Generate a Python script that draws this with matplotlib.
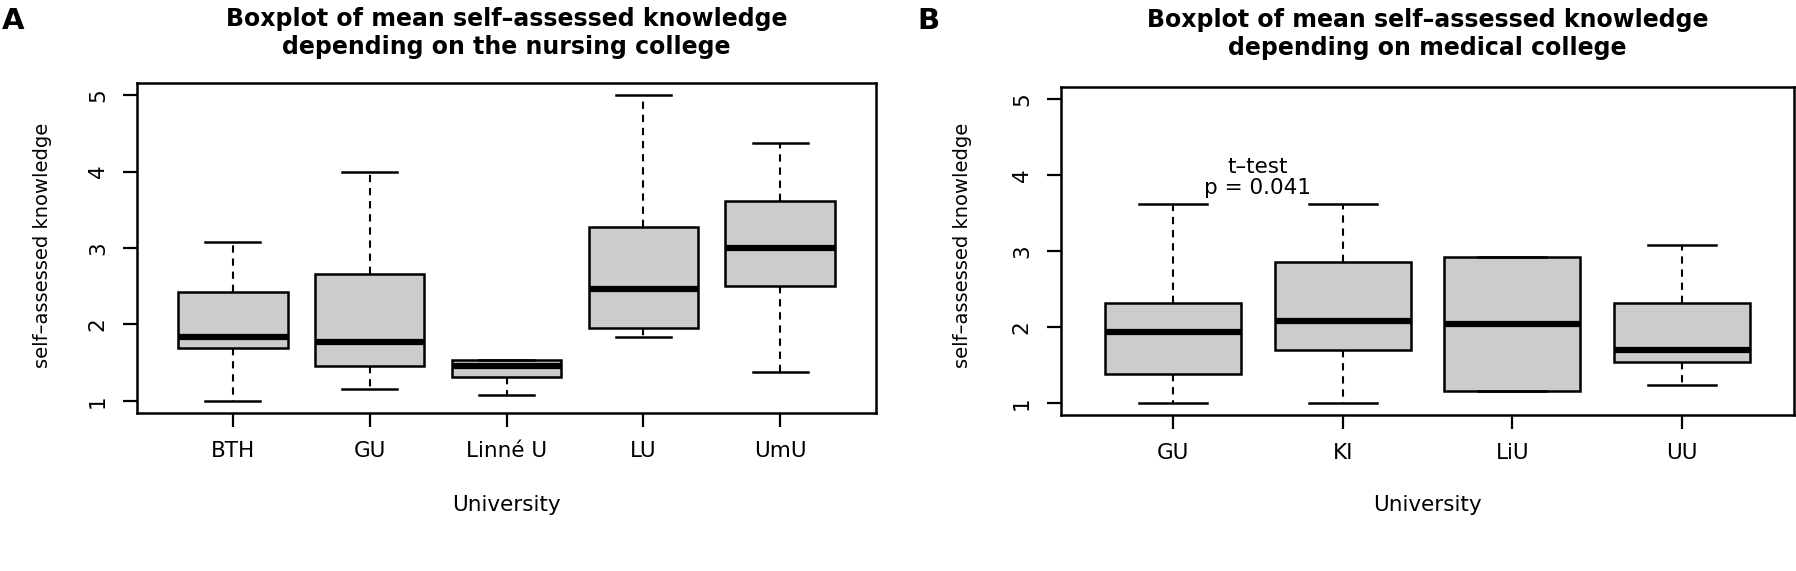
import matplotlib
matplotlib.use("Agg")
import matplotlib.pyplot as plt

plt.rcParams['font.family'] = ['DejaVu Sans']

# ---- data ----
nursing_labels = ["BTH", "GU", "Linné U", "LU", "UmU"]
nursing_whislo = [1.00, 1.16, 1.07, 1.84, 1.38]
nursing_q1     = [1.69, 1.46, 1.31, 1.95, 2.50]
nursing_med    = [1.84, 1.77, 1.46, 2.46, 3.00]
nursing_q3     = [2.42, 2.66, 1.54, 3.27, 3.62]
nursing_whishi = [3.08, 4.00, 1.54, 5.00, 4.38]

medical_labels = ["GU", "KI", "LiU", "UU"]
medical_whislo = [1.00, 1.00, 1.16, 1.23]
medical_q1     = [1.38, 1.69, 1.16, 1.54]
medical_med    = [1.93, 2.08, 2.04, 1.70]
medical_q3     = [2.31, 2.85, 2.92, 2.31]
medical_whishi = [3.62, 3.62, 2.92, 3.08]

yticks = [1, 2, 3, 4, 5]
title_a = "Boxplot of mean self\u2013assessed knowledge\ndepending on the nursing college"
title_b = "Boxplot of mean self\u2013assessed knowledge\ndepending on medical college"
ylabel = "self\u2013assessed knowledge"
xlabel = "University"
annot = "t\u2013test\np = 0.041"

W, H = 1796, 571
fig = plt.figure(figsize=(W / 100, H / 100), dpi=100)

def px_axes(x0, x1, y0, y1):
    return fig.add_axes([x0 / W, 1 - y1 / H, (x1 - x0) / W, (y1 - y0) / H])

ax1 = px_axes(137, 876, 83, 413)
ax2 = px_axes(1061, 1794, 87, 415)

box_fill = "#cbcccb"
LAB = 15.5

def draw(ax, labels, lo, q1, med, q3, hi):
    stats = []
    for i in range(len(labels)):
        stats.append(dict(label=labels[i], whislo=lo[i], q1=q1[i], med=med[i],
                          q3=q3[i], whishi=hi[i], fliers=[]))
    n = len(labels)
    ax.bxp(stats, positions=list(range(1, n + 1)), widths=0.8, patch_artist=True,
           showfliers=False,
           boxprops=dict(facecolor=box_fill, edgecolor="black", linewidth=1.8),
           medianprops=dict(color="black", linewidth=4.5, solid_capstyle="butt"),
           whiskerprops=dict(color="black", linewidth=1.5, linestyle=(0, (3.5, 2.8))),
           capprops=dict(color="black", linewidth=1.8),
           capwidths=0.4)
    ext = 0.04 * n
    ax.set_xlim(0.5 - ext, n + 0.5 + ext)
    ax.set_ylim(0.84, 5.16)
    ax.set_yticks(yticks)
    ax.set_yticklabels([str(v) for v in yticks])
    ax.set_xticks(list(range(1, n + 1)))
    ax.set_xticklabels(labels)
    for s in ax.spines.values():
        s.set_linewidth(1.8)
    ax.tick_params(axis="both", length=10, width=1.6, labelsize=LAB, direction="out")
    ax.tick_params(axis="x", pad=10)
    ax.tick_params(axis="y", pad=11)
    for lab in ax.get_yticklabels():
        lab.set_rotation(90)
        lab.set_va("center")
        lab.set_ha("right")

draw(ax1, nursing_labels, nursing_whislo, nursing_q1, nursing_med, nursing_q3, nursing_whishi)
draw(ax2, medical_labels, medical_whislo, medical_q1, medical_med, medical_q3, medical_whishi)

# titles
fig.text((137 + 876) / 2 / W, 1 - 33 / H, title_a, ha="center", va="center",
         fontsize=17, fontweight="bold", linespacing=1.25)
fig.text((1061 + 1794) / 2 / W, 1 - 34 / H, title_b, ha="center", va="center",
         fontsize=17, fontweight="bold", linespacing=1.25)
fig.text(13 / W, 1 - 21 / H, "A", ha="center", va="center", fontsize=21, fontweight="bold")
fig.text(928 / W, 1 - 21 / H, "B", ha="center", va="center", fontsize=21, fontweight="bold")

# axis labels
for ax, xc, ylx in ((ax1, (137 + 876) / 2, 43), (ax2, (1061 + 1794) / 2, 963)):
    fig.text(xc / W, 1 - 505 / H, xlabel, ha="center", va="center", fontsize=LAB)
    fig.text(ylx / W, 1 - 245 / H, ylabel, ha="center", va="center", rotation=90, fontsize=14)

ax2.text(1.5, 3.97, annot, ha="center", va="center", fontsize=LAB, linespacing=1.05)

fig.savefig("out.png", dpi=100)
